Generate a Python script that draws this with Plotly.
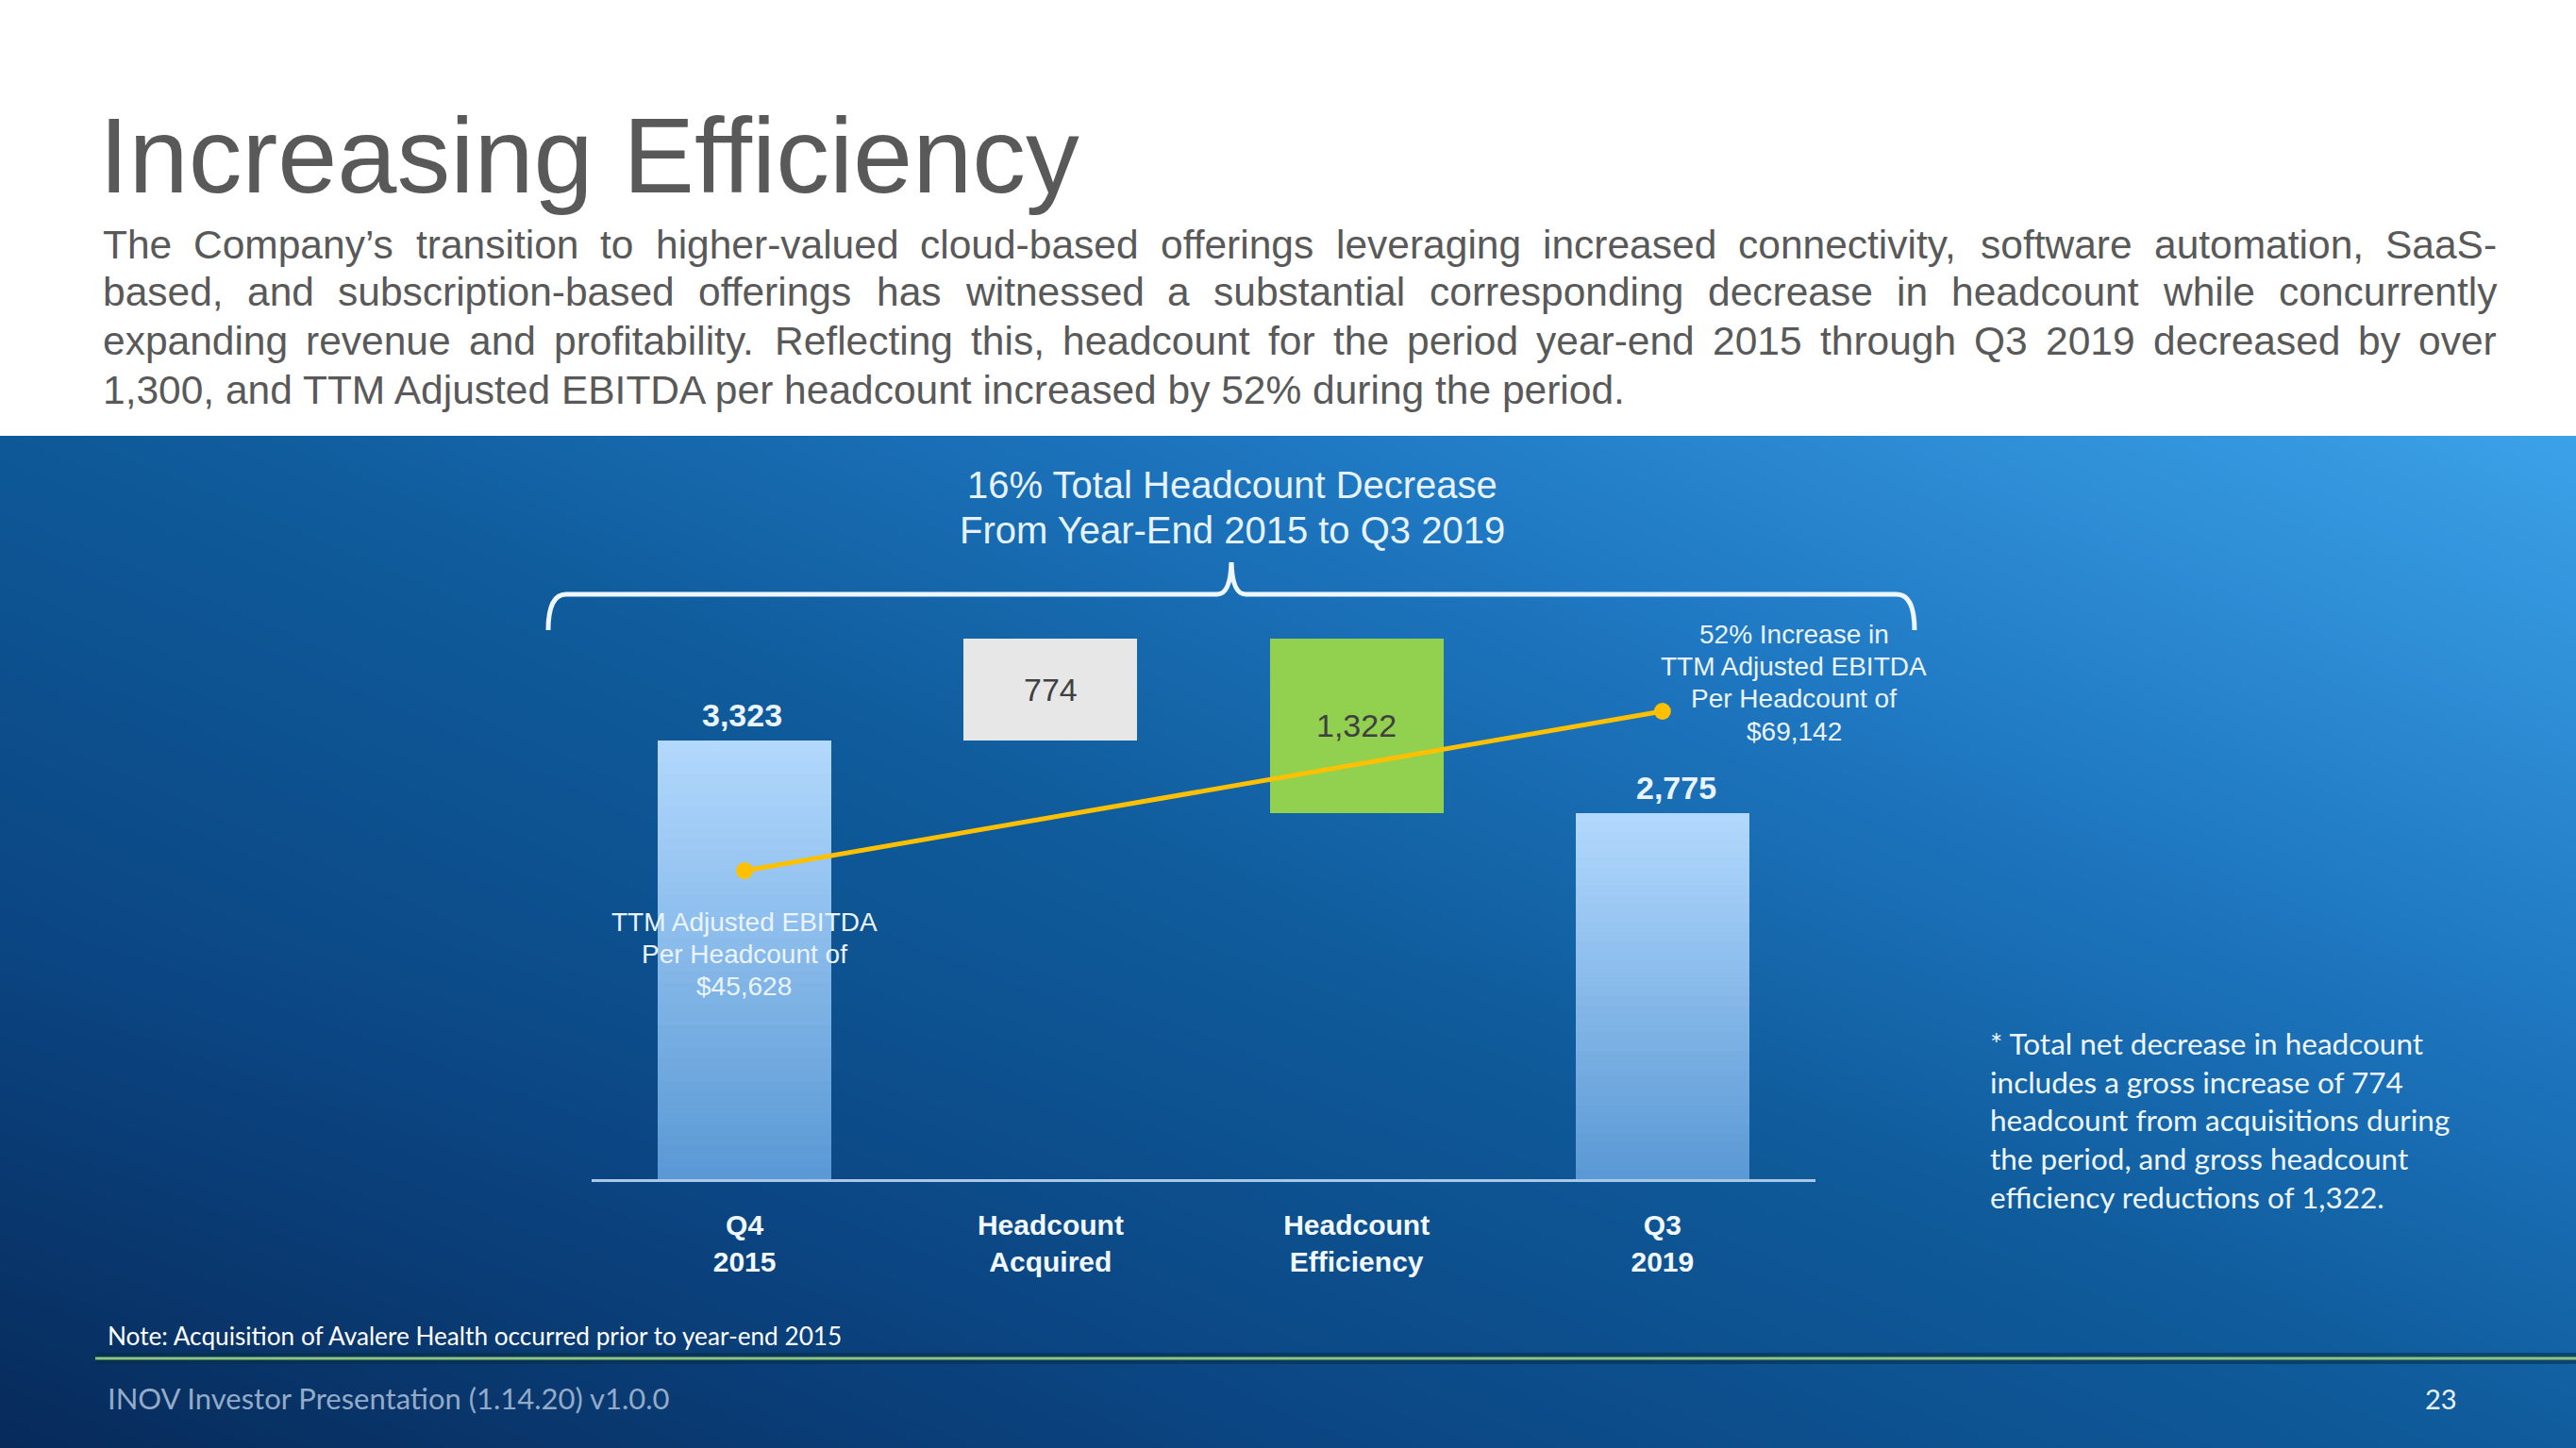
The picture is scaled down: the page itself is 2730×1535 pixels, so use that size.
import plotly.graph_objects as go

W, H = 2730, 1535

# ---------------- data ----------------
categories = ["Q4<br>2015", "Headcount<br>Acquired", "Headcount<br>Efficiency", "Q3<br>2019"]
headcount = [3323, 774, 1322, 2775]          # start, acquired (+), efficiency (-), end
ebitda_categories = ["Q4<br>2015", "Q3<br>2019"]
ebitda_per_headcount = [45628, 69142]
ebitda_left_label = ["TTM Adjusted EBITDA", "Per Headcount of", "$45,628"]
ebitda_right_label = ["52% Increase in", "TTM Adjusted EBITDA", "Per Headcount of", "$69,142"]

title_text = "Increasing Efficiency"
paragraph_lines = [
    "The Company\u2019s transition to higher-valued cloud-based offerings leveraging increased connectivity, software automation, SaaS-",
    "based, and subscription-based offerings has witnessed a substantial corresponding decrease in headcount while concurrently",
    "expanding revenue and profitability. Reflecting this, headcount for the period year-end 2015 through Q3 2019 decreased by over",
    "1,300, and TTM Adjusted EBITDA per headcount increased by 52% during the period.",
]
bracket_title = ["16% Total Headcount Decrease", "From Year-End 2015 to Q3 2019"]
side_note = [
    "* Total net decrease in headcount",
    "includes a gross increase of 774",
    "headcount from acquisitions during",
    "the period, and gross headcount",
    "efficiency reductions of 1,322.",
]
note_text = "Note: Acquisition of Avalere Health occurred prior to year-end 2015"
footer_text = "INOV Investor Presentation (1.14.20) v1.0.0"
page_number = "23"

# ---------------- helpers ----------------
SANS = "Liberation Sans, Arial, sans-serif"
CAL = "Lato, Open Sans, sans-serif"

ARIAL = {' ': 278, '!': 278, '"': 355, '#': 556, '$': 556, '%': 889, '&': 667, "'": 191, '(': 333, ')': 333,
         '*': 389, '+': 584, ',': 278, '-': 333, '.': 278, '/': 278, ':': 278, ';': 278, '?': 556,
         'A': 667, 'B': 667, 'C': 722, 'D': 722, 'E': 667, 'F': 611, 'G': 778, 'H': 722, 'I': 278, 'J': 500,
         'K': 667, 'L': 556, 'M': 833, 'N': 722, 'O': 778, 'P': 667, 'Q': 778, 'R': 722, 'S': 667, 'T': 611,
         'U': 722, 'V': 667, 'W': 944, 'X': 667, 'Y': 667, 'Z': 611,
         'a': 556, 'b': 556, 'c': 500, 'd': 556, 'e': 556, 'f': 278, 'g': 556, 'h': 556, 'i': 222, 'j': 222,
         'k': 500, 'l': 222, 'm': 833, 'n': 556, 'o': 556, 'p': 556, 'q': 556, 'r': 333, 's': 500, 't': 278,
         'u': 556, 'v': 500, 'w': 722, 'x': 500, 'y': 500, 'z': 500, '\u2019': 222}
for d in "0123456789":
    ARIAL[d] = 556


def text_width(s, size):
    return sum(ARIAL.get(c, 556) for c in s) * size / 1000.0


def px(x):
    return x / W


def py(y):
    return 1 - y / H


annotations = []


def txt(x, y, s, size, color, family=SANS, weight="normal", xanchor="left", yanchor="middle"):
    annotations.append(dict(xref="paper", yref="paper", x=px(x), y=py(y), text=s, showarrow=False,
                            xanchor=xanchor, yanchor=yanchor, borderpad=0,
                            font=dict(family=family, size=size, color=color, weight=weight)))


def hex_to_rgb(h):
    h = h.lstrip("#")
    return tuple(int(h[i:i + 2], 16) for i in (0, 2, 4))


def mix(c1, c2, t):
    a, b = hex_to_rgb(c1), hex_to_rgb(c2)
    return "rgb(%d,%d,%d)" % tuple(round(a[i] + (b[i] - a[i]) * t) for i in range(3))


fig = go.Figure()

# ---------------- background gradient (blue panel) ----------------
fig.add_trace(go.Heatmap(
    x=[0, 0.5, 1], y=[0, 0.5, 1],
    z=[[0.0, 0.30, 0.56], [0.30, 0.55, 0.78], [0.52, 0.75, 1.0]],
    zmin=0, zmax=1, zsmooth="best", showscale=False, hoverinfo="skip",
    colorscale=[[0, "#072a5a"], [0.3, "#0b4582"], [0.55, "#0f5b9b"], [0.75, "#1f78c2"], [1, "#3ca2e8"]],
    xaxis="x", yaxis="y"))

# ---------------- bars ----------------
start, acquired, efficiency, end = headcount
BAR_W = 0.567
N = 40
top_c, bot_c = "#b2d8fd", "#5a99d5"
for k in range(N):
    f = (N - k) / N
    col = mix(top_c, bot_c, k / (N - 1))
    fig.add_trace(go.Bar(
        x=[categories[0], categories[3]], y=[start * f, end * f],
        width=BAR_W, marker=dict(color=col, line=dict(width=0)),
        hoverinfo="skip", showlegend=False, xaxis="x2", yaxis="y2"))

fig.add_trace(go.Bar(x=[categories[1]], y=[acquired], base=[start], width=BAR_W,
                     marker=dict(color="#e7e7e7", line=dict(width=0)),
                     hoverinfo="skip", showlegend=False, xaxis="x2", yaxis="y2"))
fig.add_trace(go.Bar(x=[categories[2]], y=[efficiency], base=[start + acquired - efficiency], width=BAR_W,
                     marker=dict(color="#92d050", line=dict(width=0)),
                     hoverinfo="skip", showlegend=False, xaxis="x2", yaxis="y2"))

# ---------------- EBITDA line ----------------
fig.add_trace(go.Scatter(x=ebitda_categories, y=ebitda_per_headcount, mode="lines+markers",
                         line=dict(color="#ffc000", width=5), marker=dict(color="#ffc000", size=18),
                         hoverinfo="skip", showlegend=False, xaxis="x2", yaxis="y3"))

# ---------------- value labels ----------------
lab_font = dict(family=SANS, size=34, color="#e9f4ff", weight="bold")
for cat, val, xs in ((categories[0], start, -3), (categories[3], end, 15)):
    annotations.append(dict(xref="x2", yref="y2", x=cat, y=val, text=f"{val:,}", showarrow=False,
                            yanchor="bottom", yshift=6, xshift=xs, font=lab_font))
inner_font = dict(family=SANS, size=34, color="#404040")
annotations.append(dict(xref="x2", yref="y2", x=categories[1], y=start + acquired / 2, text=f"{acquired:,}",
                        showarrow=False, font=inner_font))
annotations.append(dict(xref="x2", yref="y2", x=categories[2], y=start + acquired - efficiency / 2,
                        text=f"{efficiency:,}", showarrow=False, font=inner_font))

# EBITDA labels
for line, yy in zip(ebitda_left_label, [977, 1011, 1045]):
    txt(789, yy, line, 28, "#eaf4ff", xanchor="center")
for line, yy in zip(ebitda_right_label, [672, 706, 740, 775]):
    txt(1901, yy, line, 28, "#eaf4ff", xanchor="center")

# ---------------- title & paragraph ----------------
txt(104, 164, title_text, 113.5, "#595959")

PFS = 42.5
x_left, x_right = 108, 2645
line_y = [259, 310, 362, 413]
for li, line in enumerate(paragraph_lines):
    if li < len(paragraph_lines) - 1:
        words = line.split(" ")
        widths = [text_width(w, PFS) for w in words]
        gap = (x_right - x_left - sum(widths)) / (len(words) - 1)
        xc = x_left
        for w, wd in zip(words, widths):
            txt(xc, line_y[li], w, PFS, "#595959")
            xc += wd + gap
    else:
        txt(x_left, line_y[li], line, PFS, "#595959")

# ---------------- bracket ----------------
txt(1306, 514, bracket_title[0], 40, "#e6f3ff", xanchor="center")
txt(1306, 562, bracket_title[1], 40, "#e6f3ff", xanchor="center")


def P(x, y):
    return f"{px(x):.6f},{py(y):.6f}"


bracket_path = (f"M {P(581, 668)} Q {P(581, 630)} {P(600, 630)} L {P(1290, 630)} "
                f"Q {P(1304, 630)} {P(1305, 596)} Q {P(1306, 630)} {P(1320, 630)} "
                f"L {P(2010, 630)} Q {P(2029, 630)} {P(2029, 668)}")

shapes = [
    dict(type="path", xref="paper", yref="paper", path=bracket_path,
         line=dict(color="#eef6ff", width=5), layer="above"),
    dict(type="line", xref="paper", yref="paper", x0=px(101), x1=1, y0=py(1440), y1=py(1440),
         line=dict(color="rgba(8,45,70,0.55)", width=12), layer="above"),
    dict(type="line", xref="paper", yref="paper", x0=px(101), x1=1, y0=py(1440), y1=py(1440),
         line=dict(color="#8ec67f", width=3), layer="above"),
]

# ---------------- side note, note, footer ----------------
for line, yy in zip(side_note, [1106, 1147, 1187, 1228, 1269]):
    txt(2108, yy, line, 31.5, "#eef6ff", family=CAL)
txt(113, 1416, note_text, 26.2, "#ffffff", family=CAL)
txt(113, 1482, footer_text, 31, "#93abc8", family=CAL)
txt(2587, 1482, page_number, 29, "#eaf4ff", family=CAL, xanchor="center")

# ---------------- layout ----------------
fig.update_layout(
    width=W, height=H, margin=dict(l=0, r=0, t=0, b=0),
    template="none", paper_bgcolor="#ffffff", plot_bgcolor="rgba(0,0,0,0)",
    barmode="overlay", bargap=0, hovermode=False, showlegend=False,
    xaxis=dict(domain=[0, 1], range=[0, 1], visible=False, fixedrange=True),
    yaxis=dict(domain=[0, py(462)], range=[0, 1], visible=False, fixedrange=True),
    xaxis2=dict(domain=[px(627), px(1924)], anchor="y2", type="category",
                categoryorder="array", categoryarray=categories, range=[-0.5, 3.5],
                showline=True, linecolor="#a9c8e6", linewidth=3, ticks="", showgrid=False,
                zeroline=False, ticklabelstandoff=20,
                tickfont=dict(family=SANS, size=30, color="#f2f8ff", weight="bold")),
    yaxis2=dict(domain=[py(1250), py(620)], anchor="x2", range=[0, 4502], visible=False),
    yaxis3=dict(overlaying="y2", anchor="x2", range=[132, 87785], visible=False),
    annotations=annotations, shapes=shapes,
)

fig.write_html("out.html", config={"displayModeBar": False},
               post_script="document.body.style.margin='0';document.body.style.overflow='hidden';")
